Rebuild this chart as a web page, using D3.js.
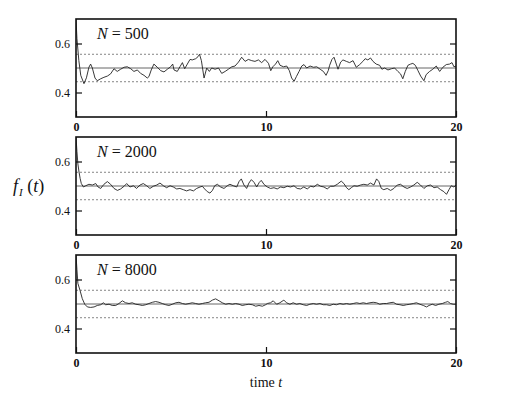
<!DOCTYPE html>
<html>
<head>
<meta charset="utf-8">
<script src="https://cdn.jsdelivr.net/npm/d3@7"></script>
<style>
  body { margin: 0; background: #fff; }
  svg, svg text { font-family: "Liberation Serif", "Times New Roman", "DejaVu Serif", serif; }
</style>
</head>
<body>
<div id="chart"></div>
<script>
const tN500 = [0, 0.05, 0.15, 0.25, 0.42, 0.55, 0.68, 0.77, 0.86, 1.0, 1.12, 1.3, 1.47, 1.65, 1.82, 2.0, 2.17, 2.35, 2.53, 2.7,
  2.88, 3.05, 3.23, 3.4, 3.58, 3.75, 3.84, 3.96, 4.1, 4.28, 4.46, 4.63, 4.81, 4.98, 5.09, 5.16, 5.33, 5.47, 5.6, 5.72,
  5.86, 6.0, 6.12, 6.3, 6.42, 6.5, 6.6, 6.74, 6.88, 7.02, 7.14, 7.32, 7.5, 7.67, 7.85, 8.02, 8.2, 8.37, 8.55, 8.72,
  8.9, 9.07, 9.25, 9.42, 9.6, 9.77, 9.95, 10.13, 10.25, 10.36, 10.5, 10.62, 10.74, 10.92, 11.09, 11.23, 11.35, 11.48, 11.6, 11.74,
  11.88, 12.0, 12.14, 12.32, 12.5, 12.67, 12.85, 13.02, 13.16, 13.28, 13.35, 13.47, 13.58, 13.7, 13.79, 13.93, 14.05, 14.23, 14.4, 14.58,
  14.75, 14.93, 15.1, 15.22, 15.36, 15.5, 15.63, 15.8, 15.98, 16.1, 16.24, 16.42, 16.6, 16.77, 16.94, 17.08, 17.2, 17.33, 17.47, 17.61,
  17.73, 17.86, 18.0, 18.14, 18.31, 18.43, 18.61, 18.78, 18.96, 19.14, 19.31, 19.49, 19.66, 19.79, 19.89, 20.0];
const fN500 = [0.70, 0.62, 0.53, 0.47, 0.436, 0.46, 0.503, 0.516, 0.500, 0.459, 0.448, 0.456, 0.462, 0.467, 0.476, 0.497, 0.486, 0.495, 0.503, 0.505,
  0.497, 0.486, 0.492, 0.478, 0.470, 0.459, 0.465, 0.492, 0.516, 0.503, 0.489, 0.484, 0.495, 0.505, 0.516, 0.492, 0.486, 0.505, 0.522, 0.497,
  0.516, 0.535, 0.533, 0.538, 0.546, 0.556, 0.530, 0.459, 0.500, 0.486, 0.500, 0.495, 0.500, 0.478, 0.486, 0.495, 0.505, 0.508, 0.524, 0.544,
  0.527, 0.535, 0.530, 0.527, 0.533, 0.522, 0.535, 0.519, 0.489, 0.505, 0.516, 0.530, 0.511, 0.505, 0.508, 0.489, 0.459, 0.446, 0.465, 0.486,
  0.508, 0.514, 0.500, 0.508, 0.503, 0.505, 0.495, 0.486, 0.470, 0.490, 0.511, 0.535, 0.544, 0.516, 0.495, 0.524, 0.533, 0.527, 0.522, 0.530,
  0.503, 0.514, 0.527, 0.538, 0.533, 0.541, 0.527, 0.516, 0.511, 0.495, 0.500, 0.492, 0.497, 0.500, 0.486, 0.476, 0.456, 0.486, 0.511, 0.516,
  0.519, 0.511, 0.489, 0.467, 0.448, 0.473, 0.486, 0.495, 0.508, 0.486, 0.503, 0.514, 0.516, 0.522, 0.505, 0.508];

const tN2000 = [0, 0.05, 0.1, 0.16, 0.22, 0.28, 0.39, 0.51, 0.68, 0.86, 1.04, 1.16, 1.3, 1.47, 1.65, 1.82, 2.0, 2.18, 2.35, 2.53,
  2.67, 2.84, 3.02, 3.19, 3.37, 3.54, 3.72, 3.89, 4.07, 4.25, 4.42, 4.6, 4.77, 4.95, 5.12, 5.3, 5.47, 5.65, 5.82, 6.0,
  6.18, 6.35, 6.53, 6.65, 6.77, 6.91, 7.05, 7.18, 7.3, 7.44, 7.61, 7.79, 7.96, 8.1, 8.28, 8.46, 8.58, 8.7, 8.84, 8.98,
  9.1, 9.23, 9.37, 9.51, 9.65, 9.75, 9.9, 10.07, 10.24, 10.42, 10.59, 10.77, 10.94, 11.12, 11.29, 11.47, 11.64, 11.82, 11.99, 12.17,
  12.35, 12.52, 12.7, 12.87, 13.05, 13.22, 13.4, 13.57, 13.75, 13.96, 14.1, 14.24, 14.36, 14.49, 14.63, 14.8, 14.98, 15.15, 15.33, 15.5,
  15.68, 15.82, 15.94, 16.07, 16.2, 16.38, 16.56, 16.73, 16.91, 17.08, 17.26, 17.43, 17.61, 17.78, 17.96, 18.13, 18.31, 18.49, 18.66, 18.84,
  19.01, 19.19, 19.36, 19.5, 19.63, 19.75, 19.89, 20.0];
const fN2000 = [0.70, 0.64, 0.59, 0.557, 0.53, 0.51, 0.496, 0.501, 0.507, 0.504, 0.510, 0.496, 0.490, 0.507, 0.518, 0.507, 0.490, 0.482, 0.488, 0.499,
  0.510, 0.496, 0.501, 0.490, 0.504, 0.510, 0.501, 0.490, 0.499, 0.504, 0.512, 0.501, 0.493, 0.501, 0.496, 0.488, 0.490, 0.485, 0.480, 0.485,
  0.480, 0.490, 0.496, 0.499, 0.488, 0.477, 0.471, 0.482, 0.501, 0.507, 0.496, 0.490, 0.501, 0.507, 0.501, 0.496, 0.518, 0.529, 0.504, 0.490,
  0.512, 0.526, 0.515, 0.496, 0.515, 0.523, 0.506, 0.496, 0.490, 0.493, 0.488, 0.496, 0.493, 0.499, 0.496, 0.501, 0.490, 0.488, 0.496, 0.488,
  0.499, 0.496, 0.507, 0.499, 0.496, 0.488, 0.499, 0.499, 0.507, 0.520, 0.510, 0.493, 0.485, 0.493, 0.501, 0.499, 0.504, 0.507, 0.504, 0.512,
  0.504, 0.529, 0.518, 0.490, 0.485, 0.490, 0.482, 0.490, 0.504, 0.507, 0.496, 0.490, 0.496, 0.504, 0.515, 0.504, 0.490, 0.501, 0.504, 0.493,
  0.496, 0.485, 0.477, 0.466, 0.485, 0.501, 0.496, 0.504];

const tN8000 = [0, 0.05, 0.1, 0.21, 0.33, 0.46, 0.6, 0.77, 0.95, 1.12, 1.3, 1.44, 1.56, 1.74, 1.91, 2.09, 2.26, 2.44, 2.61, 2.79,
  2.96, 3.14, 3.32, 3.49, 3.67, 3.84, 4.02, 4.19, 4.37, 4.54, 4.72, 4.89, 5.07, 5.25, 5.42, 5.6, 5.77, 5.95, 6.12, 6.3,
  6.47, 6.65, 6.82, 7.0, 7.18, 7.35, 7.53, 7.7, 7.88, 8.05, 8.23, 8.4, 8.58, 8.75, 8.93, 9.1, 9.28, 9.46, 9.63, 9.81,
  9.98, 10.07, 10.24, 10.38, 10.56, 10.73, 10.94, 11.08, 11.26, 11.43, 11.61, 11.78, 11.96, 12.14, 12.31, 12.49, 12.66, 12.84, 13.01, 13.19,
  13.36, 13.54, 13.71, 13.89, 14.06, 14.24, 14.41, 14.59, 14.77, 14.94, 15.12, 15.29, 15.47, 15.64, 15.82, 15.99, 16.17, 16.35, 16.52, 16.7,
  16.87, 17.05, 17.22, 17.4, 17.57, 17.75, 17.92, 18.1, 18.28, 18.45, 18.58, 18.75, 18.93, 19.1, 19.28, 19.45, 19.57, 19.71, 19.85, 20.0];
const fN8000 = [0.70, 0.64, 0.584, 0.556, 0.522, 0.499, 0.488, 0.486, 0.488, 0.494, 0.497, 0.505, 0.497, 0.499, 0.494, 0.494, 0.502, 0.513, 0.505, 0.502,
  0.505, 0.499, 0.497, 0.494, 0.497, 0.502, 0.507, 0.510, 0.507, 0.502, 0.497, 0.494, 0.499, 0.505, 0.507, 0.502, 0.499, 0.502, 0.505, 0.502,
  0.499, 0.502, 0.505, 0.507, 0.516, 0.521, 0.513, 0.505, 0.499, 0.502, 0.499, 0.502, 0.499, 0.494, 0.497, 0.499, 0.497, 0.491, 0.494, 0.491,
  0.497, 0.502, 0.505, 0.513, 0.499, 0.505, 0.516, 0.505, 0.499, 0.505, 0.499, 0.502, 0.497, 0.494, 0.499, 0.502, 0.499, 0.502, 0.497, 0.497,
  0.494, 0.499, 0.497, 0.502, 0.499, 0.502, 0.499, 0.502, 0.505, 0.502, 0.505, 0.502, 0.505, 0.507, 0.505, 0.499, 0.502, 0.502, 0.505, 0.507,
  0.499, 0.497, 0.494, 0.497, 0.499, 0.502, 0.505, 0.499, 0.494, 0.488, 0.494, 0.499, 0.494, 0.499, 0.502, 0.507, 0.510, 0.502, 0.499, 0.499];

const panelLabels = ['500', '2000', '8000'];
const xTicks = [0, 10, 20];
const yTicks = [0.4, 0.6];
const meanLine = 0.5;
const bandLines = [0.444, 0.556];

const series = [
  { n: panelLabels[0], t: tN500, f: fN500 },
  { n: panelLabels[1], t: tN2000, f: fN2000 },
  { n: panelLabels[2], t: tN8000, f: fN8000 },
];

const serif = '"Liberation Serif", "Times New Roman", serif';
const W = 519, H = 415;
const left = 76, right = 456;
const panelTops = [19, 137, 255];
const panelH = 98;

const svg = d3.select('#chart').append('svg')
  .attr('width', W)
  .attr('height', H)
  .attr('font-family', serif);

const x = d3.scaleLinear().domain([0, 20]).range([left, right]);

series.forEach((s, i) => {
  const top = panelTops[i];
  const y = d3.scaleLinear().domain([0.3, 0.7]).range([top + panelH, top]);
  const g = svg.append('g');

  g.append('clipPath').attr('id', 'clip' + i)
    .append('rect')
    .attr('x', left).attr('y', top)
    .attr('width', right - left).attr('height', panelH);

  // band lines
  g.selectAll('.band')
    .data(bandLines)
    .join('line')
    .attr('x1', left).attr('x2', right)
    .attr('y1', d => y(d)).attr('y2', d => y(d))
    .attr('stroke', '#666')
    .attr('stroke-width', 0.8)
    .attr('stroke-dasharray', '2,2');

  g.append('line')
    .attr('x1', left).attr('x2', right)
    .attr('y1', y(meanLine)).attr('y2', y(meanLine))
    .attr('stroke', '#666')
    .attr('stroke-width', 1);

  const pts = s.t.map((t, k) => [t, s.f[k]]);
  const line = d3.line()
    .x(d => x(d[0]))
    .y(d => y(d[1]));

  g.append('path')
    .datum(pts)
    .attr('clip-path', `url(#clip${i})`)
    .attr('d', line)
    .attr('fill', 'none')
    .attr('stroke', '#222')
    .attr('stroke-width', 0.9);

  // axes, ticks pointing inward
  const yl = g.append('g')
    .attr('transform', `translate(${left},0)`)
    .call(d3.axisLeft(y).tickValues(yTicks).tickFormat(d3.format('.1f'))
      .tickSizeInner(-6).tickSizeOuter(0).tickPadding(6));
  const yr = g.append('g')
    .attr('transform', `translate(${right},0)`)
    .call(d3.axisRight(y).tickValues(yTicks).tickFormat('')
      .tickSizeInner(-6).tickSizeOuter(0));
  const xb = g.append('g')
    .attr('transform', `translate(0,${top + panelH})`)
    .call(d3.axisBottom(x).tickValues(xTicks).tickFormat(d3.format('d'))
      .tickSizeInner(-6).tickSizeOuter(0).tickPadding(5));

  [yl, yr, xb].forEach(a => {
    a.attr('font-family', serif);
    a.select('.domain').remove();
    a.selectAll('line').attr('stroke', '#111').attr('stroke-width', 1.2);
    a.selectAll('text').attr('fill', '#111');
  });
  yl.selectAll('text').attr('font-size', 12);
  xb.selectAll('text').attr('font-size', 12).attr('font-weight', 'bold');

  g.append('rect')
    .attr('x', left).attr('y', top)
    .attr('width', right - left).attr('height', panelH)
    .attr('fill', 'none')
    .attr('stroke', '#111')
    .attr('stroke-width', 1.6);

  const title = g.append('text')
    .attr('x', 97)
    .attr('y', top + 20)
    .attr('font-family', serif)
    .attr('font-size', 16)
    .attr('fill', '#111');
  title.append('tspan').attr('font-style', 'italic').text('N');
  title.append('tspan').text(' = ' + s.n);
});

// y label f_I(t)
const yLab = svg.append('text')
  .attr('x', 13)
  .attr('y', 192)
  .attr('font-family', serif)
  .attr('font-size', 18)
  .attr('fill', '#111');
yLab.append('tspan').attr('font-style', 'italic').text('f');
yLab.append('tspan').attr('font-style', 'italic').attr('font-size', 11).attr('dy', 4).attr('dx', 1).text('I');
yLab.append('tspan').attr('dy', -4).text(' (');
yLab.append('tspan').attr('font-style', 'italic').text('t');
yLab.append('tspan').text(')');

// x label
const xLab = svg.append('text')
  .attr('x', (left + right) / 2)
  .attr('y', 387)
  .attr('text-anchor', 'middle')
  .attr('font-family', serif)
  .attr('font-size', 14)
  .attr('fill', '#111');
xLab.append('tspan').text('time ');
xLab.append('tspan').attr('font-style', 'italic').text('t');
</script>
</body>
</html>
